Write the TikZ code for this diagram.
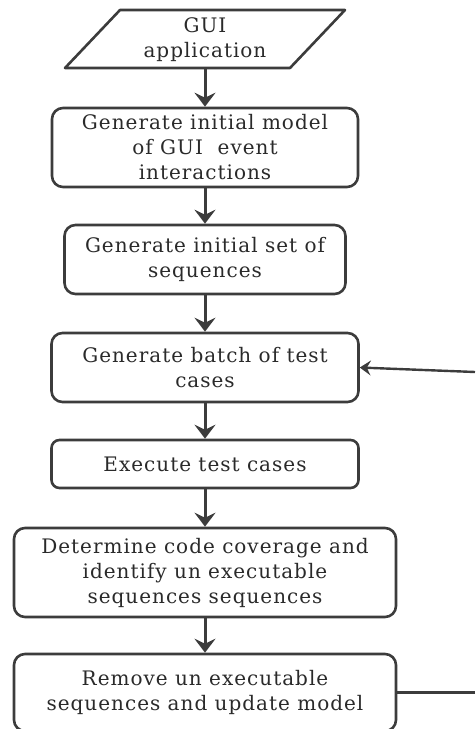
\documentclass[tikz,border=0pt]{standalone}
\usepackage{fontspec}
\setmainfont{DejaVu Serif}[LetterSpace=5.0]
\usetikzlibrary{arrows.meta}
\definecolor{ln}{HTML}{3C3C3C}
\definecolor{tx}{HTML}{2A2A2A}
\begin{document}
\begin{tikzpicture}[x=1pt,y=-1pt,
  every node/.style={font=\fontsize{20}{25}\selectfont, text=tx, align=center, inner sep=0pt},
  box/.style={draw=ln, line width=2.6pt, rounded corners=11pt},
  flow/.style={draw=ln, line width=3pt, -{Stealth[length=14pt,width=21pt,inset=5pt]}},
  back/.style={draw=ln, line width=2.4pt, -{Stealth[length=11pt,width=15pt,inset=4pt]}}]
\clip (0,0) rectangle (475,729);
% input parallelogram
\draw[ln, line width=2.6pt, line join=round] (120,10) -- (345,10) -- (290,68) -- (65,68) -- cycle;
\node[minimum width=170pt, minimum height=58pt] (gui) at (205,40) {GUI\\application};
\node[box, minimum width=306pt, minimum height=79pt] (b1) at (205,147.5) {Generate initial model\\of GUI\ \ event\\interactions};
\node[box, minimum width=281pt, minimum height=69pt] (b2) at (205,259.5) {Generate initial set of\\sequences};
\node[box, minimum width=307pt, minimum height=69pt] (b3) at (205,367.5) {Generate batch of test\\cases};
\node[box, minimum width=307pt, minimum height=48pt, rounded corners=8pt] (b4) at (205,464) {Execute test cases};
\node[box, minimum width=382pt, minimum height=89pt] (b5) at (205,572.5) {Determine code coverage and\\identify un executable\\sequences sequences};
\node[box, minimum width=382pt, minimum height=77pt] (b6) at (205,692.5) {Remove un executable\\sequences and update model};
\coordinate (fa) at (475,692.5);
\coordinate (fb) at (475,372);
\draw[flow] (gui.south) -- (b1.north);
\draw[flow] (b1.south) -- (b2.north);
\draw[flow] (b2.south) -- (b3.north);
\draw[flow] (b3.south) -- (b4.north);
\draw[flow] (b4.south) -- (b5.north);
\draw[flow] (b5.south) -- (b6.north);
\draw[ln, line width=2.4pt] (b6.east) -- (fa);
\draw[back] (fb) -- (b3.east);
\end{tikzpicture}
\end{document}
